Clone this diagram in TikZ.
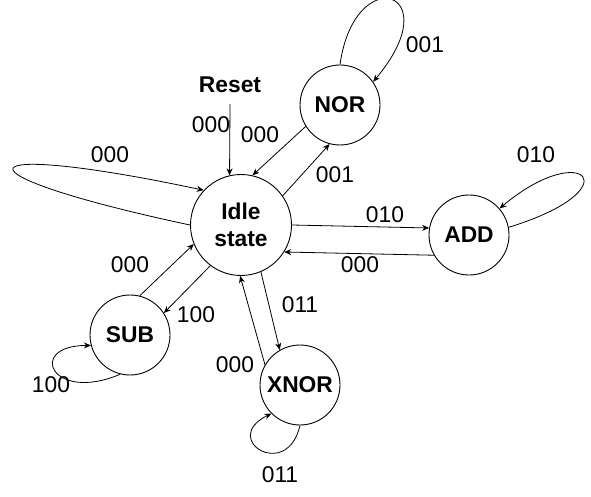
\documentclass[tikz,border=0pt]{standalone}
\usepackage{fontspec}
\setmainfont{Liberation Sans}
\usetikzlibrary{arrows.meta}

\newcommand{\fsmfont}{\fontsize{22.8}{27.6}\selectfont}

\begin{document}
\begin{tikzpicture}[x=1pt,y=1pt,font=\fsmfont]
  \tikzset{state/.style={circle,draw,line width=0.9pt,minimum size=80pt,inner sep=0pt,align=center,font=\fsmfont\bfseries}}
  \tikzset{trans/.style={-{Stealth[length=7pt,width=6pt]},line width=0.8pt}}
  \tikzset{cond/.style={inner sep=0pt}}

  \useasboundingbox (0,0) rectangle (591,-497);

  % states
  \node[state,minimum size=101pt] (idle) at (241,-225) {Idle\\state};
  \node[state] (nor) at (340,-105) {NOR};
  \node[state] (add) at (469,-235) {ADD};
  \node[state] (sub) at (130,-335) {SUB};
  \node[state] (xnor) at (300,-385) {XNOR};
  \node[cond,font=\fsmfont\bfseries] (reset) at (230,-85) {Reset};

  % transitions
  \draw[trans] ([yshift=-11pt]reset.south) -- (idle.103);
  \draw[trans] (nor.212) -- (idle.77);
  \draw[trans] (idle.35) -- (nor.255);
  \draw[trans] (idle.0) -- (add.170);
  \draw[trans] (add.210) -- (idle.-32);
  \draw[trans] (idle.233) -- (sub.33);
  \draw[trans] (sub.76) -- (idle.202);
  \draw[trans] (idle.-67) -- (xnor.120);
  \draw[trans] (xnor.150) -- (idle.269);

  % self loops
  \draw[trans] (idle.180) .. controls +(168:250) and +(168:250) .. (idle.137);
  \draw[trans] (nor.90) .. controls +(82:105) and +(50:120) .. (nor.35);
  \draw[trans] (add.11) .. controls +(17:130) and +(40:110) .. (add.41);
  \draw[trans] (sub.256) .. controls +(203:75) and +(180:65) .. (sub.195);
  \draw[trans] (xnor.270) .. controls +(257:58) and +(206:58) .. (xnor.225);

  % conditions
  \node[cond] (c-reset) at (211,-125) {000};
  \node[cond] (c-ni) at (260,-135) {000};
  \node[cond] (c-in) at (335,-175) {001};
  \node[cond] (c-nn) at (425,-45) {001};
  \node[cond] (c-ia) at (385,-215) {010};
  \node[cond] (c-ai) at (360,-265) {000};
  \node[cond] (c-aa) at (536,-155) {010};
  \node[cond] (c-ii) at (110,-155) {000};
  \node[cond] (c-is) at (196,-315) {100};
  \node[cond] (c-si) at (130,-265) {000};
  \node[cond] (c-ss) at (51,-385) {100};
  \node[cond] (c-ix) at (300,-305) {011};
  \node[cond] (c-xi) at (235,-365) {000};
  \node[cond] (c-xx) at (280,-475) {011};
\end{tikzpicture}
\end{document}
